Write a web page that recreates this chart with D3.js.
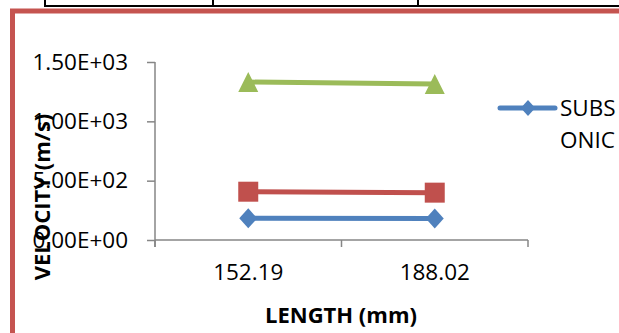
<!DOCTYPE html>
<html>
<head>
<meta charset="utf-8">
<script src="https://cdn.jsdelivr.net/npm/d3@7"></script>
<style>
  html, body { margin: 0; padding: 0; background: #fff; }
  svg { display: block; font-family: "Open Sans", sans-serif; }
</style>
</head>
<body>
<svg id="chart" width="619" height="333"></svg>
<script>
// chart data
var categories = ['152.19', '188.02'];
var seriesNames = ['SUBSONIC', 'TRANSONIC', 'SUPERSONIC'];
var subsonic = [183, 182];
var transonic = [407, 399];
var supersonic = [1331, 1315];
var yTicks = [0, 500, 1000, 1500];
var yTickLabels = ['0.00E+00', '5.00E+02', '1.00E+03', '1.50E+03'];

var colors = ['#4f81bd', '#c0504d', '#9bbb59'];
var markers = ['diamond', 'square', 'triangle'];
var series = [subsonic, transonic, supersonic].map(function(values, i) {
    return { name: seriesNames[i], values: values, color: colors[i], marker: markers[i] };
});

var svg = d3.select('#chart');

// bits of the table above the chart and the red frame
var deco = svg.append('g');
deco.append('line').attr('x1', 45).attr('x2', 619).attr('y1', 6).attr('y2', 6)
    .attr('stroke', '#000').attr('stroke-width', 2);
[45, 213, 418].forEach(function(x) {
    deco.append('line').attr('x1', x).attr('x2', x).attr('y1', 0).attr('y2', 7)
        .attr('stroke', '#000').attr('stroke-width', 2);
});
deco.append('rect')
    .attr('x', 12.5).attr('y', 11).attr('width', 700).attr('height', 400)
    .attr('fill', 'none').attr('stroke', '#c55450').attr('stroke-width', 5);

var plot = { left: 155, right: 528, top: 62, bottom: 240 };
var fontSize = 22.5;

var x = d3.scaleBand().domain(categories).range([plot.left, plot.right]).padding(0);
var y = d3.scaleLinear().domain([0, 1500]).range([plot.bottom, plot.top]);

// y axis
var yAxis = svg.append('g')
    .attr('transform', 'translate(' + plot.left + ',0)')
    .call(d3.axisLeft(y).tickValues(yTicks).tickSize(8).tickPadding(19)
        .tickFormat(function(d, i) { return yTickLabels[i]; }));

// x axis
var xAxis = svg.append('g')
    .attr('transform', 'translate(0,' + plot.bottom + ')')
    .call(d3.axisBottom(x).tickSize(0).tickPadding(24));

// x ticks sit on the band edges
xAxis.selectAll('.edge')
    .data(d3.range(categories.length + 1))
    .enter().append('line')
    .attr('class', 'edge')
    .attr('x1', function(i) { return plot.left + i * x.step(); })
    .attr('x2', function(i) { return plot.left + i * x.step(); })
    .attr('y1', 0).attr('y2', 7);

[yAxis, xAxis].forEach(function(ax) {
    ax.select('.domain').attr('stroke', '#868686').attr('stroke-width', 1.5);
    ax.selectAll('line').attr('stroke', '#868686').attr('stroke-width', 1.5);
    ax.selectAll('text').attr('fill', '#000').attr('font-size', fontSize)
        .attr('font-family', '"Open Sans", sans-serif');
});
yAxis.select('.domain').attr('d', 'M0,' + plot.top + 'V' + (plot.bottom + 7));
xAxis.select('.domain').attr('d', 'M' + plot.left + ',0H' + plot.right);

// axis titles
svg.append('text')
    .attr('x', 341).attr('y', 323)
    .attr('text-anchor', 'middle')
    .attr('font-size', 22).attr('font-weight', 'bold')
    .text('LENGTH (mm)');

svg.append('text')
    .attr('transform', 'translate(50,197) rotate(-90)')
    .attr('text-anchor', 'middle')
    .attr('font-size', 22).attr('font-weight', 'bold')
    .text('VELOCITY (m/s)');

function markerPath(type, s) {
    var h = s / 2;
    if (type === 'diamond') return 'M0,' + (-h) + 'L' + (h * 0.9) + ',0L0,' + h + 'L' + (-h * 0.9) + ',0Z';
    if (type === 'square') return 'M' + (-h) + ',' + (-h) + 'H' + h + 'V' + h + 'H' + (-h) + 'Z';
    return 'M0,' + (-h) + 'L' + h + ',' + h + 'H' + (-h) + 'Z';
}

var line = d3.line()
    .x(function(d, i) { return x(categories[i]) + x.bandwidth() / 2; })
    .y(function(d) { return y(d); });

var groups = svg.append('g').selectAll('g.series')
    .data(series)
    .enter().append('g')
    .attr('class', 'series');

groups.append('path')
    .attr('d', function(s) { return line(s.values); })
    .attr('fill', 'none')
    .attr('stroke', function(s) { return s.color; })
    .attr('stroke-width', 5);

groups.selectAll('path.marker')
    .data(function(s) {
        return s.values.map(function(v, i) { return { s: s, v: v, i: i }; });
    })
    .enter().append('path')
    .attr('class', 'marker')
    .attr('transform', function(d) {
        return 'translate(' + (x(categories[d.i]) + x.bandwidth() / 2) + ',' + y(d.v) + ')';
    })
    .attr('d', function(d) { return markerPath(d.s.marker, 20); })
    .attr('fill', function(d) { return d.s.color; });

// legend (only the first entry is visible in the frame)
var legend = svg.append('g').attr('transform', 'translate(500,108)');
legend.append('line').attr('x1', 0).attr('x2', 55)
    .attr('stroke', series[0].color).attr('stroke-width', 5).attr('stroke-linecap', 'round');
legend.append('path').attr('transform', 'translate(28,0)')
    .attr('d', markerPath(series[0].marker, 16)).attr('fill', series[0].color);
var lt = legend.append('text').attr('x', 60).attr('y', 8).attr('font-size', fontSize);
lt.append('tspan').attr('x', 60).text(series[0].name.slice(0, 4));
lt.append('tspan').attr('x', 60).attr('dy', 32).text(series[0].name.slice(4));
</script>
</body>
</html>
